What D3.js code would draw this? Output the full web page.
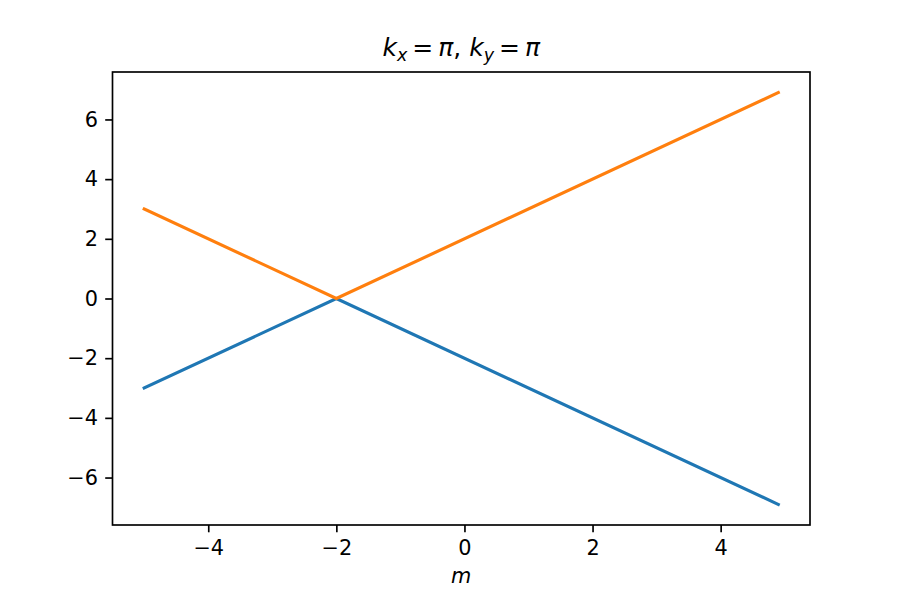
<!DOCTYPE html>
<html>
<head>
<meta charset="utf-8">
<script src="https://cdn.jsdelivr.net/npm/d3@7"></script>
<style>
  body { margin: 0; background: #fff; }
  svg { display: block; }
  text { font-family: "DejaVu Sans", sans-serif; fill: #000; }
</style>
</head>
<body>
<svg id="svg" width="900" height="600"></svg>
<script>
// data: both series are straight pieces meeting at m = -2
const mVals = [-5, -2, 4.9];
const blueVals = [-3, 0, -6.9];
const orangeVals = [3, 0, 6.9];
const xTicks = [-4, -2, 0, 2, 4];
const yTicks = [-6, -4, -2, 0, 2, 4, 6];

const W = 900, H = 600;
const margin = { left: 112.5, right: 90, top: 72, bottom: 75 };
const pt = 150 / 72; // matplotlib points -> px at 150 dpi

const svg = d3.select("#svg");
const g = svg.append("g");

// 5% auto margins like matplotlib
const xPad = (d3.max(mVals) - d3.min(mVals)) * 0.05;
const allY = blueVals.concat(orangeVals);
const yPad = (d3.max(allY) - d3.min(allY)) * 0.05;

const x = d3.scaleLinear()
  .domain([d3.min(mVals) - xPad, d3.max(mVals) + xPad])
  .range([margin.left, W - margin.right]);
const y = d3.scaleLinear()
  .domain([d3.min(allY) - yPad, d3.max(allY) + yPad])
  .range([H - margin.bottom, margin.top]);

// lines
const series = [
  { vals: blueVals, color: "#1f77b4" },
  { vals: orangeVals, color: "#ff7f0e" }
];
const line = d3.line().x(d => x(d[0])).y(d => y(d[1]));
series.forEach(s => {
  g.append("path")
    .attr("d", line(mVals.map((m, i) => [m, s.vals[i]])))
    .attr("fill", "none")
    .attr("stroke", s.color)
    .attr("stroke-width", 1.5 * pt)
    .attr("stroke-linecap", "square");
});

// axes
const tickLen = 3.5 * pt;
const tickPad = 3.5 * pt;
const fs = 10 * pt;

const xAxis = g.append("g")
  .attr("transform", `translate(0,${H - margin.bottom})`)
  .call(d3.axisBottom(x).tickValues(xTicks).tickSizeInner(tickLen).tickSizeOuter(0).tickPadding(tickPad));
const yAxis = g.append("g")
  .attr("transform", `translate(${margin.left},0)`)
  .call(d3.axisLeft(y).tickValues(yTicks).tickSizeInner(tickLen).tickSizeOuter(0).tickPadding(tickPad));

[xAxis, yAxis].forEach(a => {
  a.select(".domain").remove();
  a.selectAll(".tick line").attr("stroke", "#000").attr("stroke-width", 0.8 * pt);
  a.selectAll(".tick text")
    .style("font-family", "DejaVu Sans")
    .style("font-size", fs + "px")
    .attr("fill", "#000");
});
xAxis.selectAll(".tick text").attr("dy", "0.76em");

// frame
g.append("rect")
  .attr("x", margin.left).attr("y", margin.top)
  .attr("width", W - margin.left - margin.right)
  .attr("height", H - margin.top - margin.bottom)
  .attr("fill", "none")
  .attr("stroke", "#000")
  .attr("stroke-width", 0.8 * pt);

// x label
g.append("text")
  .attr("x", (margin.left + W - margin.right) / 2)
  .attr("y", 583)
  .attr("text-anchor", "middle")
  .style("font-size", fs + "px")
  .style("font-style", "italic")
  .text("m");

// title: k_x = π, k_y = π
const title = g.append("text")
  .attr("x", (margin.left + W - margin.right) / 2)
  .attr("y", 56)
  .attr("text-anchor", "middle")
  .style("font-size", (12 * pt) + "px");
const sub = 12 * pt * 0.7;
title.append("tspan").style("font-style", "italic").text("k");
title.append("tspan").style("font-style", "italic").style("font-size", sub + "px").attr("dy", 5).text("x");
title.append("tspan").attr("dy", -5).text("\u2009=\u2009");
title.append("tspan").style("font-style", "italic").text("π");
title.append("tspan").text(", ");
title.append("tspan").style("font-style", "italic").text("k");
title.append("tspan").style("font-style", "italic").style("font-size", sub + "px").attr("dy", 5).text("y");
title.append("tspan").attr("dy", -5).text("\u2009=\u2009");
title.append("tspan").style("font-style", "italic").text("π");
</script>
</body>
</html>
